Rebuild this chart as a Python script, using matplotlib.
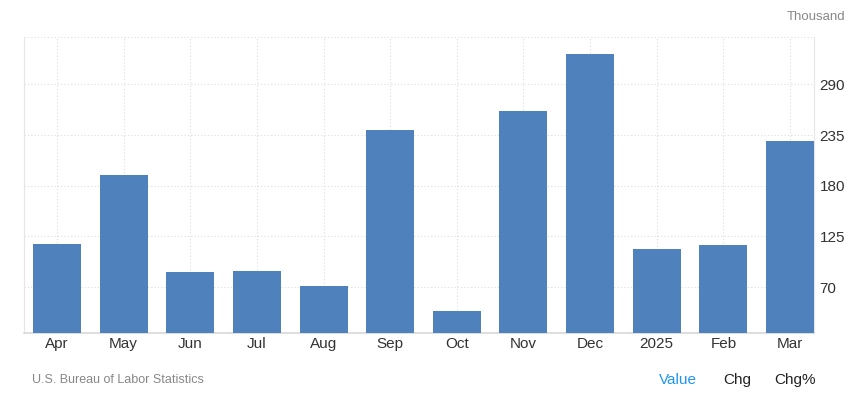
import numpy as np
import matplotlib.pyplot as plt

plt.rcParams['font.family'] = ['Liberation Sans', 'DejaVu Sans']

# nonfarm payrolls, thousand
months = ['Apr', 'May', 'Jun', 'Jul', 'Aug', 'Sep', 'Oct', 'Nov', 'Dec', '2025', 'Feb', 'Mar']
values = [117, 192, 87, 88, 71, 240, 44, 261, 323, 111, 116, 228]
yticks = [70, 125, 180, 235, 290]

fig = plt.figure(figsize=(8.62, 4.11), dpi=100)
ax = fig.add_axes([24.3 / 862, 1 - 333.3 / 411, (814 - 24.3) / 862, (333.3 - 37.3) / 411])

x = np.arange(len(months))
ax.bar(x, values, width=0.72, color='#4f81bd', zorder=3)

ax.set_xlim(-0.49, 11.36)
ax.set_ylim(20, 341)

ax.set_yticks(yticks)
ax.set_xticks(x)
ax.set_xticklabels(months)
ax.yaxis.tick_right()
ax.tick_params(axis='both', length=0, labelsize=11, colors='#333333')
ax.tick_params(axis='x', pad=3)
ax.tick_params(axis='y', pad=4)

ax.grid(True, color='#dddddd', linestyle=(0, (1, 2)), linewidth=0.8, zorder=0)
ax.axhline(341, color='#dddddd', linestyle=(0, (1, 2)), linewidth=0.8, zorder=0)

ax.spines['top'].set_visible(False)
ax.spines['left'].set_color('#e6e6e6')
ax.spines['right'].set_color('#e6e6e6')
ax.spines['bottom'].set_color('#d8d8d8')
ax.spines['bottom'].set_linewidth(1.2)

fig.text(845 / 862, 1 - 17 / 411, 'Thousand', ha='right', va='center', fontsize=9.5, color='#888888')
fig.text(32 / 862, 1 - 380 / 411, 'U.S. Bureau of Labor Statistics', ha='left', va='center', fontsize=9, color='#888888')
fig.text(678 / 862, 1 - 380 / 411, 'Value', ha='center', va='center', fontsize=11, color='#2196f3')
fig.text(737 / 862, 1 - 380 / 411, 'Chg', ha='center', va='center', fontsize=11, color='#222222')
fig.text(795 / 862, 1 - 380 / 411, 'Chg%', ha='center', va='center', fontsize=11, color='#222222')

fig.savefig('out.png', dpi=100)
